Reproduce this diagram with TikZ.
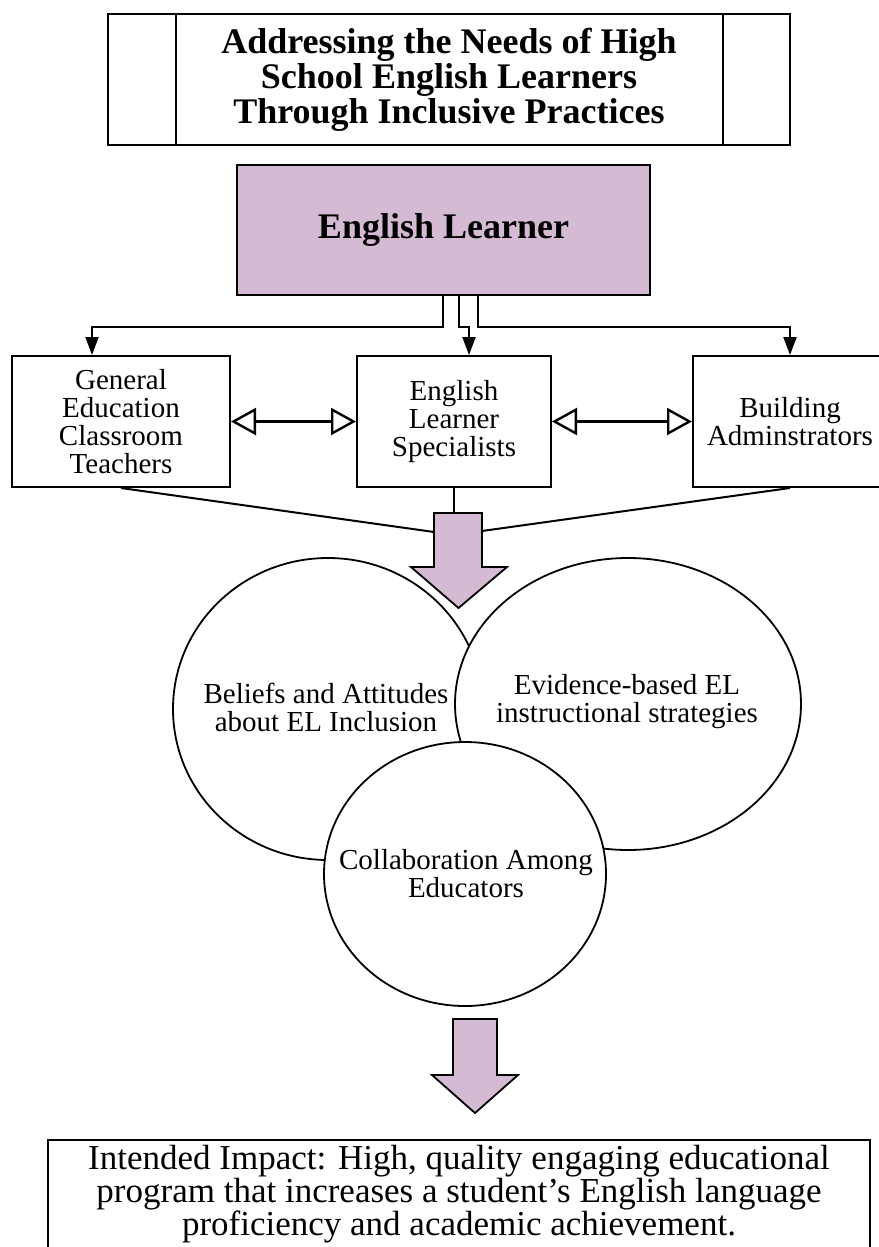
\documentclass[tikz,border=0pt]{standalone}
\usepackage{fontspec}
\setmainfont{Liberation Serif}
\usetikzlibrary{arrows.meta,calc}

\definecolor{elpurple}{RGB}{212,187,211}

\tikzset{
    box/.style={draw,line width=1pt,align=center,inner sep=0pt,font=\fontsize{14.5}{14}\selectfont},
    bubble/.style={draw,line width=0.9pt,fill=white},
    bubbletext/.style={align=center,inner sep=0pt,font=\fontsize{14.5}{14}\selectfont},
    feed/.style={line width=1pt,-{Triangle[length=9pt,width=6.5pt]}},
    link/.style={line width=1.2pt,{Triangle[open,length=12.5pt,width=13.5pt]}-{Triangle[open,length=12.5pt,width=13.5pt]}},
    merge/.style={line width=1pt},
    bigarrow/.style={draw,line width=0.9pt,fill=elpurple,line join=miter}
}

\begin{document}
\begin{tikzpicture}[x=0.5pt,y=-0.5pt]
    \useasboundingbox (0,0) rectangle (878,1247);

    %%%%%%%%%%%%%%%%%%% Title %%%%%%%%%%%%%%%%%%%%%%%%%%%%%%%
    \node [box,minimum width=341pt,minimum height=65.5pt,font=\fontsize{18}{16}\selectfont\bfseries] (title) at (449,79.5)
        {Addressing the Needs of High\\School English Learners\\Through Inclusive Practices};
    \draw [line width=1pt] ([xshift=34.5pt]title.north west) -- ([xshift=34.5pt]title.south west);
    \draw [line width=1pt] ([xshift=-34pt]title.north east) -- ([xshift=-34pt]title.south east);

    %%%%%%%%%%%%%%%%%%% English Learner %%%%%%%%%%%%%%%%%%%%%
    \node [box,fill=elpurple,minimum width=206.5pt,minimum height=65pt,font=\fontsize{18}{16}\selectfont\bfseries] (el) at (443.5,230) {English Learner};

    %%%%%%%%%%%%%%%%%%% Educators %%%%%%%%%%%%%%%%%%%%%%%%%%%
    \node [box,minimum width=109pt,minimum height=65.5pt] (gen) at (121,421.5) {General\\Education\\Classroom\\Teachers};
    \node [box,minimum width=97pt,minimum height=65.5pt] (spec) at (454,421.5) {English\\Learner\\Specialists};
    \node [box,minimum width=97pt,minimum height=65.5pt] (admin) at (790,421.5) {Building\\Adminstrators};

    % feeds from the learner
    \draw [feed] ([xshift=-0.25pt]el.south) -- ++(0,31) -| ([xshift=-14.5pt]gen.north);
    \draw [feed] ([xshift=7.75pt]el.south) -- ++(0,31) -| ([xshift=7.5pt]spec.north);
    \draw [feed] ([xshift=17.25pt]el.south) -- ++(0,31) -| (admin.north);

    % links between educators
    \draw [link] (gen) -- (spec);
    \draw [link] (spec) -- (admin);

    %%%%%%%%%%%%%%%%%%% Circles %%%%%%%%%%%%%%%%%%%%%%%%%%%%%
    \draw [bubble] (328,709) ellipse [x radius=155,y radius=151];
    \draw [bubble] (628,704) ellipse [x radius=173,y radius=146];
    \draw [bubble] (465,874) ellipse [x radius=141,y radius=132];
    \node [bubbletext] (beliefs) at (326,707) {Beliefs and Attitudes\\about EL Inclusion};
    \node [bubbletext] (evidence) at (627,702) {Evidence-based EL\\instructional strategies};
    \node [bubbletext] (collab) at (466,874) {Collaboration Among\\Educators};

    %%%%%%%%%%%%%%%%%%% Merge into arrow %%%%%%%%%%%%%%%%%%%%
    \coordinate (inL) at (434,532);
    \coordinate (inR) at (482,531);
    \coordinate (top1) at (458,513);
    \draw [merge] (gen.south) -- (inL);
    \draw [merge] (admin.south) -- (inR);
    \draw [merge] (spec.south) -- (spec.south |- top1);
    \draw [bigarrow] (434,513) -- (482,513) -- (482,567) -- (507,567) -- (458.5,608) -- (411,567) -- (434,567) -- cycle;

    %%%%%%%%%%%%%%%%%%% Impact %%%%%%%%%%%%%%%%%%%%%%%%%%%%%%
    \draw [bigarrow] (453,1019) -- (497,1019) -- (497,1075) -- (518,1075) -- (475,1113) -- (432,1075) -- (453,1075) -- cycle;
    \node [draw,line width=1pt,minimum width=411pt,minimum height=70pt,anchor=north] (impact) at (459,1139) {};
    \node [align=center,inner sep=0pt,font=\fontsize{17.5}{16.5}\selectfont] (impacttext) at (459,1194)
        {Intended Impact: High, quality engaging educational\\program that increases a student's English language\\proficiency and academic achievement.};

\end{tikzpicture}
\end{document}
